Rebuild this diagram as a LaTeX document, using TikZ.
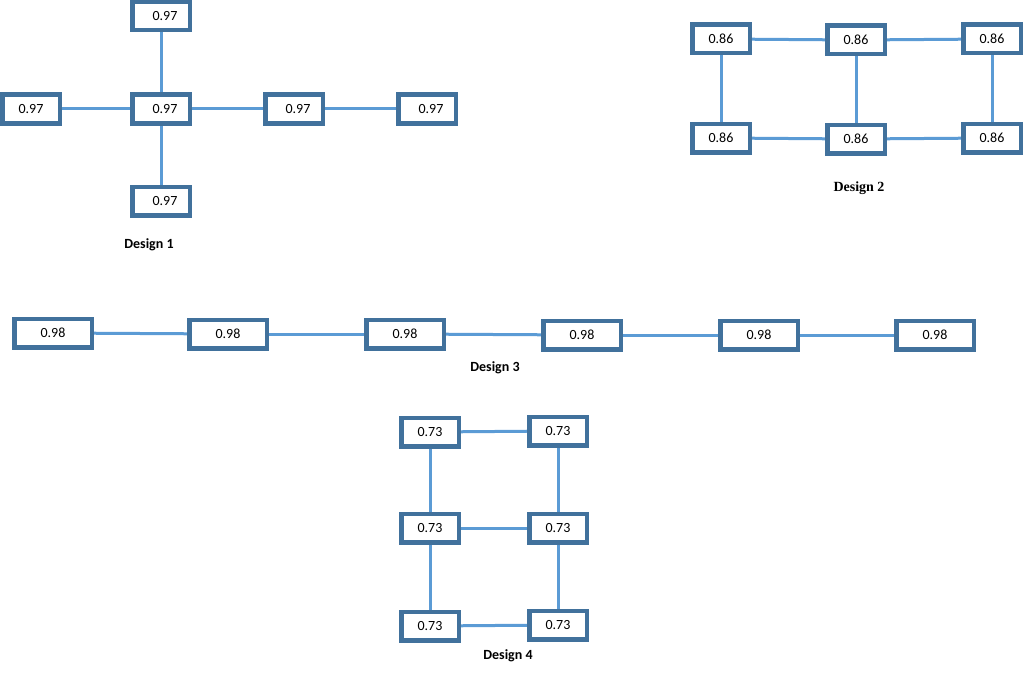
\documentclass[tikz,border=0pt]{standalone}
\usepackage{fontspec}
\setmainfont{Carlito}
\newfontfamily\serifb{Liberation Serif}
\begin{document}
\begin{tikzpicture}[x=1pt,y=-1pt,
 bx/.style={draw=boxc,line width=3pt,fill=white,minimum width=56pt,minimum height=27pt,inner sep=0pt,font=\fontsize{14}{16}\selectfont},
 wb/.style={bx,minimum width=76pt},
 ln/.style={draw=linec,line width=3pt},
 lab/.style={font=\bfseries\fontsize{14}{16}\selectfont}]
\definecolor{boxc}{HTML}{41719C}
\definecolor{linec}{HTML}{5B9BD5}
\useasboundingbox (0,0) rectangle (1024,674);
% Design 1
\node[bx] (a1) at (161,16) {\hspace{8pt}0.97};
\node[bx] (a2) at (31,109) {0.97};
\node[bx] (a3) at (161,109) {\hspace{8pt}0.97};
\node[bx] (a4) at (294,109) {\hspace{8pt}0.97};
\node[bx] (a5) at (427,109) {\hspace{8pt}0.97};
\node[bx] (a6) at (161,201) {\hspace{8pt}0.97};
\node[lab] (d1) at (149,245) {Design 1};
\begin{scope}[on background layer/.style={}]
\end{scope}
% Design 2
\node[bx] (b1) at (721,39) {0.86};
\node[bx] (b2) at (856,40) {0.86};
\node[bx] (b3) at (992,39) {0.86};
\node[bx] (b4) at (721,138) {0.86};
\node[bx] (b5) at (856,139) {0.86};
\node[bx] (b6) at (992,138) {0.86};
\node[font=\serifb\bfseries\fontsize{14}{16}\selectfont] (d2) at (859,188) {Design 2};
% Design 3
\node[wb] (c1) at (53,333) {0.98};
\node[wb] (c2) at (228,334) {0.98};
\node[wb] (c3) at (405,334) {0.98};
\node[wb] (c4) at (582,335) {0.98};
\node[wb] (c5) at (759,335) {0.98};
\node[wb] (c6) at (935,335) {0.98};
\node[lab] (d3) at (495,368) {Design 3};
% Design 4
\node[bx] (e1) at (430,432) {0.73};
\node[bx] (e2) at (558,431) {0.73};
\node[bx] (e3) at (430,528) {0.73};
\node[bx] (e4) at (558,528) {0.73};
\node[bx] (e5) at (430,626) {0.73};
\node[bx] (e6) at (558,625) {0.73};
\node[lab] (d4) at (508,656) {Design 4};
% connectors
\draw[ln] (a1) -- (a3);
\draw[ln] (a2) -- (a3);
\draw[ln] (a3) -- (a4);
\draw[ln] (a4) -- (a5);
\draw[ln] (a3) -- (a6);
\draw[ln] (b1) -- (b2);
\draw[ln] (b2) -- (b3);
\draw[ln] (b4) -- (b5);
\draw[ln] (b5) -- (b6);
\draw[ln] (b1) -- (b4);
\draw[ln] (b2) -- (b5);
\draw[ln] (b3) -- (b6);
\draw[ln] (c1) -- (c2);
\draw[ln] (c2) -- (c3);
\draw[ln] (c3) -- (c4);
\draw[ln] (c4) -- (c5);
\draw[ln] (c5) -- (c6);
\draw[ln] (e1) -- (e2);
\draw[ln] (e3) -- (e4);
\draw[ln] (e5) -- (e6);
\draw[ln] (e1) -- (e3);
\draw[ln] (e3) -- (e5);
\draw[ln] (e2) -- (e4);
\draw[ln] (e4) -- (e6);
% redraw boxes on top
\foreach \n in {a1,a2,a3,a4,a5,a6,b1,b2,b3,b4,b5,b6,e1,e2,e3,e4,e5,e6}
  \draw[boxc,line width=3pt] (\n.north west) rectangle (\n.south east);
\foreach \n in {c1,c2,c3,c4,c5,c6}
  \draw[boxc,line width=3pt] (\n.north west) rectangle (\n.south east);
\end{tikzpicture}
\end{document}
